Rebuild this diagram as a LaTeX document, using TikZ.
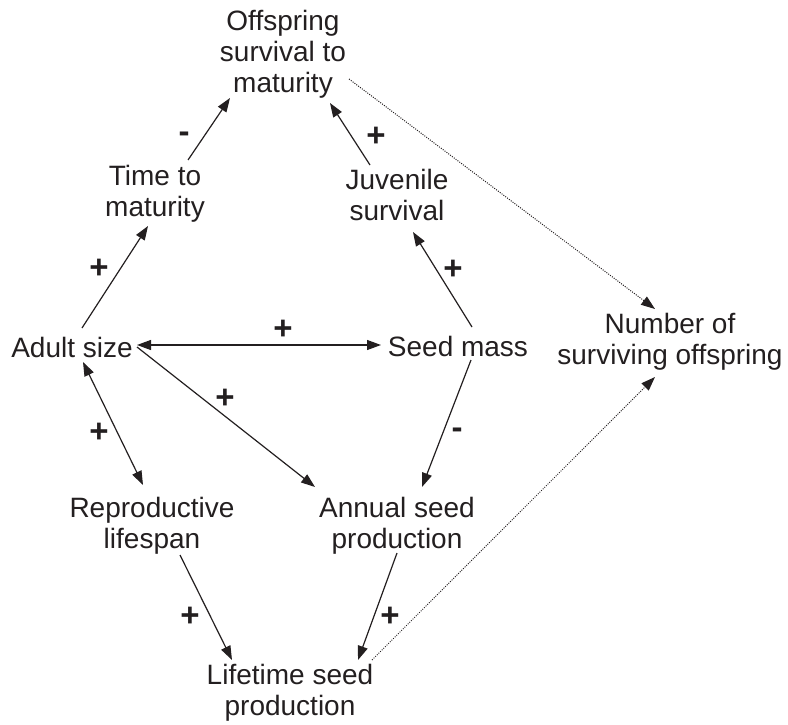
\documentclass[tikz,border=0pt]{standalone}
\usepackage{fontspec}
\setmainfont{Liberation Sans}
\usetikzlibrary{arrows.meta}
\definecolor{ink}{RGB}{35,31,32}
\begin{document}
\begin{tikzpicture}[x=1pt,y=-1pt,
  var/.style={align=center,inner sep=0pt,text=ink,font=\fontsize{28}{31}\selectfont},
  sign/.style={inner sep=0pt,text=ink,font=\fontsize{33}{34}\selectfont\bfseries},
  link/.style={draw=ink,line width=1.2pt,-{Triangle[length=14pt,width=10pt]}},
  duo/.style={draw=ink,line width=1.2pt,{Triangle[length=14pt,width=10pt]}-{Triangle[length=14pt,width=10pt]}},
  dot/.style={draw=ink,line width=1pt,dash pattern=on 1pt off 1.3pt,-{Triangle[length=14pt,width=10pt]}}]
\useasboundingbox (0,0) rectangle (788,725);
\node[var] (offs) at (283,54) {Offspring\\survival to\\maturity};
\node[var] (time) at (155,194) {Time to\\maturity};
\node[var] (juv) at (397,195) {Juvenile\\survival};
\node[var] (adult) at (72,347) {Adult size};
\node[var] (seed) at (458,346) {Seed mass};
\node[var] (num) at (670,342) {Number of\\surviving offspring};
\node[var] (repro) at (152,526) {Reproductive\\lifespan};
\node[var] (annual) at (397,526) {Annual seed\\production};
\node[var] (life) at (290,693) {Lifetime seed\\production};
% connectors
\draw[link] ([shift={(33,-34)}]time.center) -- ([shift={(-53,44)}]offs.center);
\draw[link] ([shift={(-27,-30)}]juv.center) -- ([shift={(47,49)}]offs.center);
\draw[link] ([shift={(10,-19)}]adult.center) -- ([shift={(-7,32)}]time.center);
\draw[link] ([shift={(14,-19)}]seed.center) -- ([shift={(16,37)}]juv.center);
\draw[duo] ([shift={(65,-2)}]adult.center) -- ([shift={(-77,-1)}]seed.center);
\draw[link] ([shift={(65,0)}]adult.center) -- ([shift={(-82,-39)}]annual.center);
\draw[duo] ([shift={(11,15)}]adult.center) -- ([shift={(-9,-41)}]repro.center);
\draw[link] ([shift={(13,14)}]seed.center) -- ([shift={(25,-39)}]annual.center);
\draw[link] ([shift={(28,29)}]repro.center) -- ([shift={(-58,-33)}]life.center);
\draw[link] ([shift={(0,27)}]annual.center) -- ([shift={(68,-33)}]life.center);
\draw[dot] ([shift={(66,25)}]offs.center) -- ([shift={(-15,-33)}]num.center);
\draw[dot] ([shift={(82,-33)}]life.center) -- ([shift={(-15,35)}]num.center);
% signs
\node[sign] (s1) at (184,137) {-};
\node[sign] (s2) at (376,137) {+};
\node[sign] (s3) at (99,269) {+};
\node[sign] (s4) at (453,270) {+};
\node[sign] (s5) at (283,330) {+};
\node[sign] (s6) at (225,399) {+};
\node[sign] (s7) at (99,433) {+};
\node[sign] (s8) at (457,433) {-};
\node[sign] (s9) at (190,617) {+};
\node[sign] (s10) at (390,617) {+};
\end{tikzpicture}
\end{document}
